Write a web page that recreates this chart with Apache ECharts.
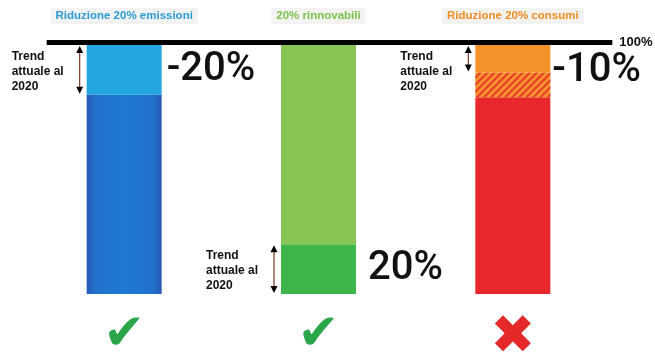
<!DOCTYPE html>
<html>
<head>
<meta charset="utf-8">
<script src="https://cdn.jsdelivr.net/npm/echarts@6/dist/echarts.min.js"></script>
<style>
  html, body { margin: 0; padding: 0; background: #fff; }
  #chart { width: 655px; height: 358px; }
</style>
</head>
<body>
<div id="chart"></div>
<script>
// categorie (titoli sopra le barre)
const categorie = ['Riduzione 20% emissioni', '20% rinnovabili', 'Riduzione 20% consumi']
// segmenti impilati, in % del totale (100%)
const segmentoBase = [80, 20, 79]
const segmentoTratteggio = [0, 0, 10]
const segmentoAlto = [20, 80, 11]
// etichette grandi a destra delle barre
const etichettePercentuali = ['-20%', '20%', '-10%']
// esito sotto ogni barra
const esiti = ['ok', 'ok', 'ko']
// tratto "Trend attuale al 2020" per barra: [da, a] in %
const trend = [[100, 80], [20, 0], [100, 89]]

const coloriTitolo = ['#2b9bd7', '#7cc14b', '#f08c22']
const coloriBase = [
  {
    type: 'linear', x: 0, y: 0, x2: 1, y2: 0,
    colorStops: [
      { offset: 0, color: '#2a58b6' },
      { offset: 0.1, color: '#2270cb' },
      { offset: 0.5, color: '#2079d3' },
      { offset: 0.9, color: '#2270cb' },
      { offset: 1, color: '#2a58b6' },
    ],
  },
  '#3db54a',
  '#e8282c',
]
const coloriAlto = ['#22a6e1', '#86c553', '#f5932a']

const chart = echarts.init(document.getElementById('chart'))

const FONT = '"Liberation Sans", Arial, sans-serif'
const bigLabel = {
  show: true,
  position: 'right',
  color: '#111',
  fontFamily: 'Roboto, "Liberation Sans", sans-serif',
  fontSize: 40,
  fontWeight: 500,
}

chart.setOption({
  animation: false,
  grid: { left: 27, right: 45, top: 45, bottom: 64, outerBoundsMode: 'none', containLabel: false },
  xAxis: [
    {
      type: 'category',
      position: 'top',
      data: categorie,
      axisLine: { show: false },
      axisTick: { show: false },
      axisLabel: {
        interval: 0,
        margin: 21,
        formatter: (v, i) => '{t' + i + '|' + v + '}',
        rich: Object.fromEntries(coloriTitolo.map((c, i) => ['t' + i, {
          color: c,
          fontFamily: FONT,
          fontWeight: 'bold',
          fontSize: 11.5,
          backgroundColor: '#f3f3f3',
          padding: [2, 5],
        }])),
      },
    },
    {
      type: 'category',
      position: 'bottom',
      data: esiti,
      axisLine: { show: false },
      axisTick: { show: false },
      axisLabel: {
        interval: 0,
        margin: 16,
        formatter: (v) => v === 'ok' ? '{ok|✔}' : '{ko|✖}',
        rich: {
          ok: { color: '#2aa548', fontSize: 50, lineHeight: 52, fontFamily: '"DejaVu Sans"' },
          ko: { color: '#e5282a', fontSize: 54, lineHeight: 52, fontFamily: '"DejaVu Sans"', padding: [6, 0, 0, 0] },
        },
      },
    },
  ],
  yAxis: { type: 'value', min: 0, max: 100, show: false },
  series: [
    {
      type: 'bar',
      stack: 'tot',
      barWidth: 75,
      data: segmentoBase.map((v, i) => ({
        value: v,
        itemStyle: { color: coloriBase[i] },
        label: i === 1
          ? { ...bigLabel, distance: 12, formatter: etichettePercentuali[i] }
          : { show: false },
      })),
    },
    {
      type: 'bar',
      stack: 'tot',
      barWidth: 75,
      data: segmentoTratteggio,
      itemStyle: {
        color: '#f5932a',
        decal: {
          symbol: 'rect',
          color: 'rgba(232,40,44,0.85)',
          dashArrayX: [1, 0],
          dashArrayY: [2, 3],
          rotation: -Math.PI / 4,
        },
      },
    },
    {
      type: 'bar',
      stack: 'tot',
      barWidth: 75,
      data: segmentoAlto.map((v, i) => ({
        value: v,
        itemStyle: { color: coloriAlto[i] },
        label: i === 0
          ? { ...bigLabel, distance: 5, formatter: etichettePercentuali[i] }
          : i === 2
            ? { ...bigLabel, distance: 2, offset: [0, 12], formatter: etichettePercentuali[i] }
            : { show: false },
      })),
    },
  ],
})

// linea del 100%, frecce e note "Trend attuale al 2020"
const px = (i, v) => chart.convertToPixel({ xAxisIndex: 0, yAxisIndex: 0 }, [i, v])
const half = 37.5
const graphic = []
const yTop = px(0, 100)[1]
graphic.push({
  type: 'line',
  shape: { x1: px(0, 100)[0] - half - 40, y1: yTop - 2.5, x2: px(2, 100)[0] + half + 62, y2: yTop - 2.5 },
  style: { stroke: '#000', lineWidth: 5 },
})
graphic.push({
  type: 'text',
  style: {
    text: '100%', x: px(2, 100)[0] + half + 69, y: yTop - 3,
    verticalAlign: 'middle', font: 'bold 13px ' + FONT, fill: '#111',
  },
})
trend.forEach((t, i) => {
  const x = px(i, 0)[0] - half - 7
  const y1 = px(i, t[0])[1] + 1
  const y2 = px(i, t[1])[1] - 1
  graphic.push({
    type: 'line',
    shape: { x1: x, y1: y1 + 4, x2: x, y2: y2 - 4 },
    style: { stroke: '#7a3a1c', lineWidth: 1.2 },
  })
  graphic.push({
    type: 'polygon',
    shape: { points: [[x - 3.5, y1 + 7], [x + 3.5, y1 + 7], [x, y1]] },
    style: { fill: '#000' },
  })
  graphic.push({
    type: 'polygon',
    shape: { points: [[x - 3.5, y2 - 7], [x + 3.5, y2 - 7], [x, y2]] },
    style: { fill: '#000' },
  })
  const centro = t[1] === 0
  graphic.push({
    type: 'text',
    style: {
      text: 'Trend\nattuale al\n2020',
      x: x - 68,
      y: centro ? (y1 + y2) / 2 + 2 : yTop + 4,
      verticalAlign: centro ? 'middle' : 'top',
      font: 'bold 12px ' + FONT,
      lineHeight: 15,
      fill: '#111',
    },
  })
})
chart.setOption({ graphic })
</script>
</body>
</html>
